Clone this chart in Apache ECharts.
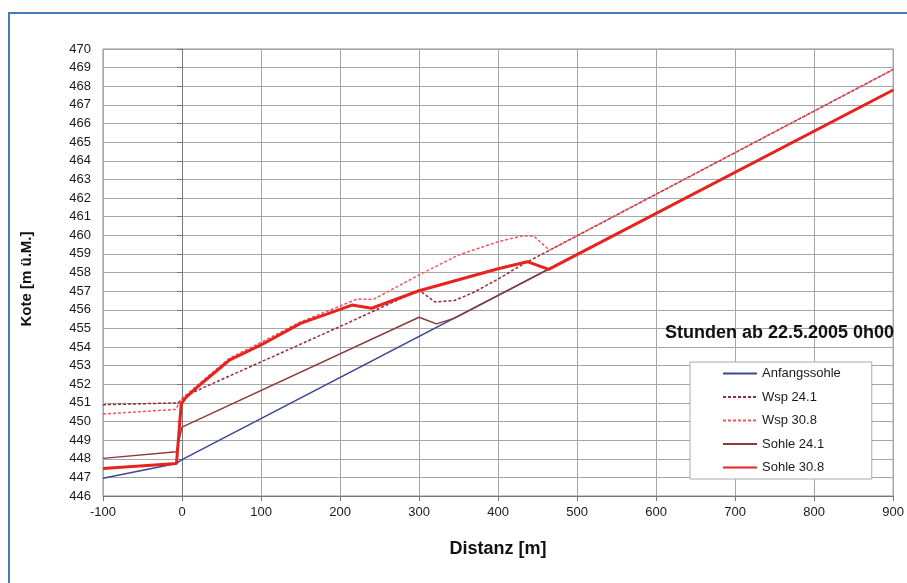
<!DOCTYPE html>
<html>
<head>
<meta charset="utf-8">
<script src="https://cdn.jsdelivr.net/npm/echarts@6/dist/echarts.min.js"></script>
<style>html,body{margin:0;padding:0;background:#fff;}#c{width:907px;height:583px;}</style>
</head>
<body>
<div id="c"></div>
<script>
// ---- data ----
const seriesNames = ['Anfangssohle', 'Wsp 24.1', 'Wsp 30.8', 'Sohle 24.1', 'Sohle 30.8'];

const anfX = [-100, -7, 0, 900];
const anfY = [446.95, 447.75, 447.95, 467.8];

const wsp241X = [-100, -5, 5, 100, 200, 300, 320, 345, 370, 400, 435, 470, 900];
const wsp241Y = [450.9, 451.0, 451.4, 453.2, 455.1, 457.05, 456.42, 456.5, 456.95, 457.65, 458.53, 459.3, 468.9];

const wsp308X = [-100, -8, 0, 10, 60, 100, 150, 200, 222, 242, 300, 350, 400, 430, 445, 465, 900];
const wsp308Y = [450.4, 450.65, 451.25, 451.6, 453.4, 454.25, 455.35, 456.2, 456.58, 456.55, 457.87, 458.94, 459.65, 459.96, 459.96, 459.2, 468.9];

const sohle241X = [-100, -7, 0, 300, 322, 345, 900];
const sohle241Y = [448.02, 448.38, 449.7, 455.6, 455.24, 455.55, 467.8];

const sohle308X = [-100, -7, -1, 5, 20, 50, 60, 100, 150, 200, 215, 240, 300, 400, 437, 464, 900];
const sohle308Y = [447.48, 447.75, 450.95, 451.3, 451.87, 452.94, 453.3, 454.11, 455.27, 456.02, 456.25, 456.08, 457.02, 458.2, 458.58, 458.17, 467.8];

const xMin = -100, xMax = 900, xStep = 100;
const yMin = 446, yMax = 470, yStep = 1;

const titleText = 'Stunden ab 22.5.2005 0h00';
const xTitle = 'Distanz [m]';
const yTitle = 'Kote [m ü.M.]';

// ---- build ----
function zip(xs, ys) { return xs.map((x, i) => [x, ys[i]]); }

const FONT = 'Liberation Sans, Arial, sans-serif';
const chart = echarts.init(document.getElementById('c'), null, {renderer: 'canvas'});

function lineSeries(name, xs, ys, color, width, dashed, z) {
  return {
    name: name, type: 'line', data: zip(xs, ys), symbol: 'none', z: z,
    lineStyle: {color: color, width: width, type: dashed ? [3, 2] : 'solid'},
    itemStyle: {color: color},
    animation: false
  };
}

chart.setOption({
  animation: false,
  backgroundColor: '#fff',
  grid: {left: 103, right: 10, top: 49, bottom: 87, show: true, borderColor: '#8a8a8a', borderWidth: 1},
  xAxis: {
    type: 'value', min: xMin, max: xMax, interval: xStep,
    name: xTitle, nameLocation: 'middle', nameGap: 44,
    nameTextStyle: {fontFamily: FONT, fontSize: 18, fontWeight: 'bold', color: '#111'},
    axisLine: {show: true, lineStyle: {color: '#777', width: 1}},
    axisTick: {show: true, length: 5, lineStyle: {color: '#777'}},
    axisLabel: {fontFamily: FONT, fontSize: 13, color: '#1a1a1a', margin: 10},
    splitLine: {show: true, lineStyle: {color: '#a6a6a6', width: 1}}
  },
  yAxis: {
    type: 'value', min: yMin, max: yMax, interval: yStep,
    axisLine: {show: true, lineStyle: {color: '#777', width: 1}},
    axisTick: {show: true, length: 5, lineStyle: {color: '#777'}},
    axisLabel: {fontFamily: FONT, fontSize: 13, color: '#1a1a1a', margin: 12},
    splitLine: {show: true, lineStyle: {color: '#a6a6a6', width: 1}}
  },
  legend: {
    orient: 'vertical', left: 690, top: 362,
    padding: [5, 31, 5, 32],
    backgroundColor: '#fff', borderColor: '#aaa', borderWidth: 1,
    itemWidth: 34, itemHeight: 14, itemGap: 10.5,
    itemStyle: {opacity: 0, borderWidth: 0},
    textStyle: {fontFamily: FONT, fontSize: 13, color: '#1a1a1a'},
    data: seriesNames
  },
  graphic: [
    {type: 'rect', shape: {x: 9, y: 13, width: 1000, height: 1000}, style: {fill: 'none', stroke: '#3f7db3', lineWidth: 2}, z: 100},
    {type: 'text', left: 665, top: 324, style: {text: titleText, font: 'bold 18px ' + FONT, fill: '#111'}, z: 100},
    {type: 'text', x: 27, y: 279, rotation: Math.PI / 2, style: {text: yTitle, font: 'bold 15px ' + FONT, fill: '#111', align: 'center', verticalAlign: 'middle'}, z: 100}
  ],
  series: [
    lineSeries(seriesNames[0], anfX, anfY, '#3a4894', 1.5, false, 2),
    lineSeries(seriesNames[1], wsp241X, wsp241Y, '#9a2840', 1.5, true, 3),
    lineSeries(seriesNames[2], wsp308X, wsp308Y, '#f2545a', 1.5, true, 3),
    lineSeries(seriesNames[3], sohle241X, sohle241Y, '#8c3a3a', 1.5, false, 4),
    lineSeries(seriesNames[4], sohle308X, sohle308Y, '#e8231f', 3, false, 5)
  ]
});
</script>
</body>
</html>
